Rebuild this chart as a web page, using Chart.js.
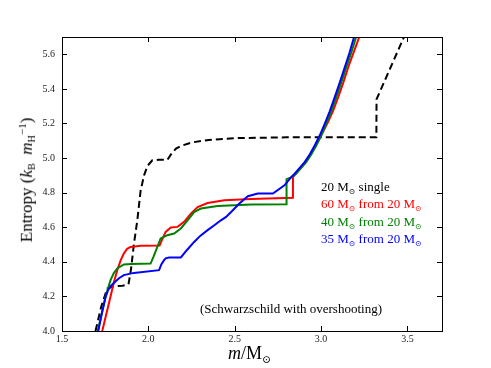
<!DOCTYPE html>
<html>
<head>
<meta charset="utf-8">
<script src="https://cdn.jsdelivr.net/npm/chart.js@4"></script>
<style>
  body { margin: 0; background: #fff; }
  #wrap { position: relative; width: 491px; height: 368px; }
  .lbl { position: absolute; font-family: "Liberation Serif", "DejaVu Serif", serif; white-space: nowrap; line-height: 1; }
  .lbl sub { font-size: 0.6em; vertical-align: -0.35em; }
  .lbl sup { font-size: 0.65em; vertical-align: 0.5em; }
  .leg { font-size: 13px; left: 321px; }
</style>
</head>
<body>
<div id="wrap">
  <canvas id="c" width="491" height="368"></canvas>
  <div class="lbl leg" style="top:180px;color:#000">20 M<sub>⊙</sub> single</div>
  <div class="lbl leg" style="top:197px;color:#ff0000">60 M<sub>⊙</sub> from 20 M<sub>⊙</sub></div>
  <div class="lbl leg" style="top:215px;color:#008000">40 M<sub>⊙</sub> from 20 M<sub>⊙</sub></div>
  <div class="lbl leg" style="top:232px;color:#0000ff">35 M<sub>⊙</sub> from 20 M<sub>⊙</sub></div>
  <div class="lbl" style="top:302px;left:200px;font-size:13px">(Schwarzschild with overshooting)</div>
  <div class="lbl" style="top:344px;left:228px;font-size:18px"><i>m</i>/M<sub>⊙</sub></div>
  <div class="lbl" style="left:27px;top:180px;font-size:17px;transform:translate(-50%,-50%) rotate(-90deg)">Entropy (<i>k</i><sub>B</sub> &nbsp;<i>m</i><sub>H</sub><sup>−1</sup>)</div>
</div>
<script>
// 20 Msun single star (dashed)
const singleX = [1.694, 1.727, 1.762, 1.80, 1.85, 1.885, 1.90, 1.916, 1.936, 1.955, 1.975, 1.995, 2.023, 2.06, 2.11, 2.13, 2.16, 2.188, 2.25, 2.35, 2.50, 2.80, 3.32, 3.321, 3.48];
const singleY = [4.00, 4.14, 4.246, 4.258, 4.262, 4.27, 4.36, 4.50, 4.64, 4.81, 4.90, 4.955, 4.987, 4.99, 4.99, 5.02, 5.055, 5.07, 5.09, 5.105, 5.115, 5.12, 5.121, 5.34, 5.70];

// 60 Msun from 20 Msun
const m60X = [1.733, 1.757, 1.781, 1.80, 1.82, 1.84, 1.858, 1.877, 1.897, 1.955, 2.065, 2.08, 2.10, 2.13, 2.169, 2.207, 2.246, 2.285, 2.343, 2.44, 2.595, 2.837, 2.837, 2.886, 2.925, 2.963, 3.00, 3.04, 3.07, 3.099, 3.128, 3.157, 3.19, 3.221];
const m60Y = [4.00, 4.10, 4.20, 4.28, 4.352, 4.41, 4.448, 4.475, 4.486, 4.493, 4.494, 4.53, 4.573, 4.598, 4.602, 4.631, 4.679, 4.717, 4.74, 4.756, 4.763, 4.77, 4.89, 4.948, 5.00, 5.063, 5.13, 5.208, 5.275, 5.352, 5.435, 5.525, 5.615, 5.70];

// 40 Msun from 20 Msun
const m40X = [1.707, 1.73, 1.752, 1.781, 1.80, 1.82, 1.858, 1.90, 2.013, 2.03, 2.052, 2.071, 2.11, 2.149, 2.188, 2.227, 2.265, 2.304, 2.401, 2.595, 2.80, 2.80, 2.83, 2.856, 2.885, 2.914, 2.944, 2.972, 3.001, 3.03, 3.059, 3.088, 3.117, 3.146, 3.175, 3.203];
const m40Y = [4.00, 4.10, 4.198, 4.294, 4.335, 4.362, 4.385, 4.388, 4.39, 4.43, 4.486, 4.535, 4.554, 4.564, 4.593, 4.64, 4.688, 4.708, 4.723, 4.731, 4.733, 4.878, 4.89, 4.91, 4.943, 4.977, 5.022, 5.073, 5.13, 5.198, 5.27, 5.352, 5.437, 5.525, 5.61, 5.70];

// 35 Msun from 20 Msun
const m35X = [1.71, 1.73, 1.752, 1.766, 1.78, 1.80, 1.83, 1.858, 1.916, 2.062, 2.075, 2.091, 2.10, 2.12, 2.188, 2.225, 2.265, 2.30, 2.343, 2.38, 2.42, 2.45, 2.479, 2.527, 2.576, 2.634, 2.721, 2.788, 2.827, 2.847, 2.876, 2.905, 2.935, 2.963, 2.992, 3.021, 3.05, 3.079, 3.108, 3.137, 3.165, 3.191];
const m35Y = [4.00, 4.10, 4.195, 4.235, 4.258, 4.277, 4.305, 4.323, 4.336, 4.352, 4.385, 4.41, 4.42, 4.425, 4.425, 4.47, 4.515, 4.55, 4.583, 4.61, 4.64, 4.66, 4.688, 4.737, 4.779, 4.795, 4.795, 4.842, 4.89, 4.91, 4.943, 4.977, 5.022, 5.073, 5.13, 5.198, 5.27, 5.352, 5.437, 5.525, 5.61, 5.70];

const xTicks = [1.5, 2.0, 2.5, 3.0, 3.5];
const yTicks = [4.0, 4.2, 4.4, 4.6, 4.8, 5.0, 5.2, 5.4, 5.6];

function pts(xs, ys){
    let out = [];
    for(let i = 0; i < xs.length; i++){
        out.push({x: xs[i], y: ys[i]});
    }
    return out;
}

// frame and inward ticks like matplotlib classic
const frame = {
    id: 'frame',
    afterDraw(chart){
        const ctx = chart.ctx;
        const a = chart.chartArea;
        const xs = chart.scales.x, ys = chart.scales.y;
        ctx.save();
        ctx.strokeStyle = '#000';
        ctx.lineWidth = 1;
        ctx.strokeRect(a.left + 0.5, a.top + 0.5, a.right - a.left, a.bottom - a.top);
        ctx.beginPath();
        xTicks.forEach(function(v){
            const p = Math.round(xs.getPixelForValue(v)) + 0.5;
            ctx.moveTo(p, a.bottom); ctx.lineTo(p, a.bottom - 5);
            ctx.moveTo(p, a.top); ctx.lineTo(p, a.top + 5);
        });
        yTicks.forEach(function(v){
            const p = Math.round(ys.getPixelForValue(v)) + 0.5;
            ctx.moveTo(a.left, p); ctx.lineTo(a.left + 5, p);
            ctx.moveTo(a.right, p); ctx.lineTo(a.right - 5, p);
        });
        ctx.stroke();
        ctx.restore();
    }
};

const tickFont = {family: 'Liberation Serif', size: 10};

new Chart(document.getElementById('c'), {
    type: 'line',
    data: {
        datasets: [
            {label: '20 single', data: pts(singleX, singleY), borderColor: '#000', borderDash: [7, 4], order: 4},
            {label: '60 from 20', data: pts(m60X, m60Y), borderColor: '#ff0000', order: 3},
            {label: '40 from 20', data: pts(m40X, m40Y), borderColor: '#008000', order: 2},
            {label: '35 from 20', data: pts(m35X, m35Y), borderColor: '#0000ff', order: 1}
        ]
    },
    options: {
        responsive: false,
        animation: false,
        devicePixelRatio: 1,
        layout: {padding: {left: 0, top: 37, right: 49, bottom: 0}},
        elements: {
            point: {radius: 0},
            line: {borderWidth: 2, tension: 0, fill: false}
        },
        plugins: {legend: {display: false}, tooltip: {enabled: false}},
        scales: {
            x: {
                type: 'linear', min: 1.5, max: 3.7,
                grid: {display: false, drawTicks: false, tickLength: 0},
                border: {display: false},
                ticks: {stepSize: 0.5, includeBounds: false, font: tickFont, color: '#222', padding: 2,
                    callback: function(v){ return v.toFixed(1); }},
                afterFit: function(s){ s.height = 37; }
            },
            y: {
                type: 'linear', min: 4.0, max: 5.7,
                grid: {display: false, drawTicks: false, tickLength: 0},
                border: {display: false},
                ticks: {stepSize: 0.2, includeBounds: false, font: tickFont, color: '#222', padding: 7,
                    callback: function(v){ return v.toFixed(1); }},
                afterFit: function(s){ s.width = 62; }
            }
        }
    },
    plugins: [frame]
});
</script>
</body>
</html>
